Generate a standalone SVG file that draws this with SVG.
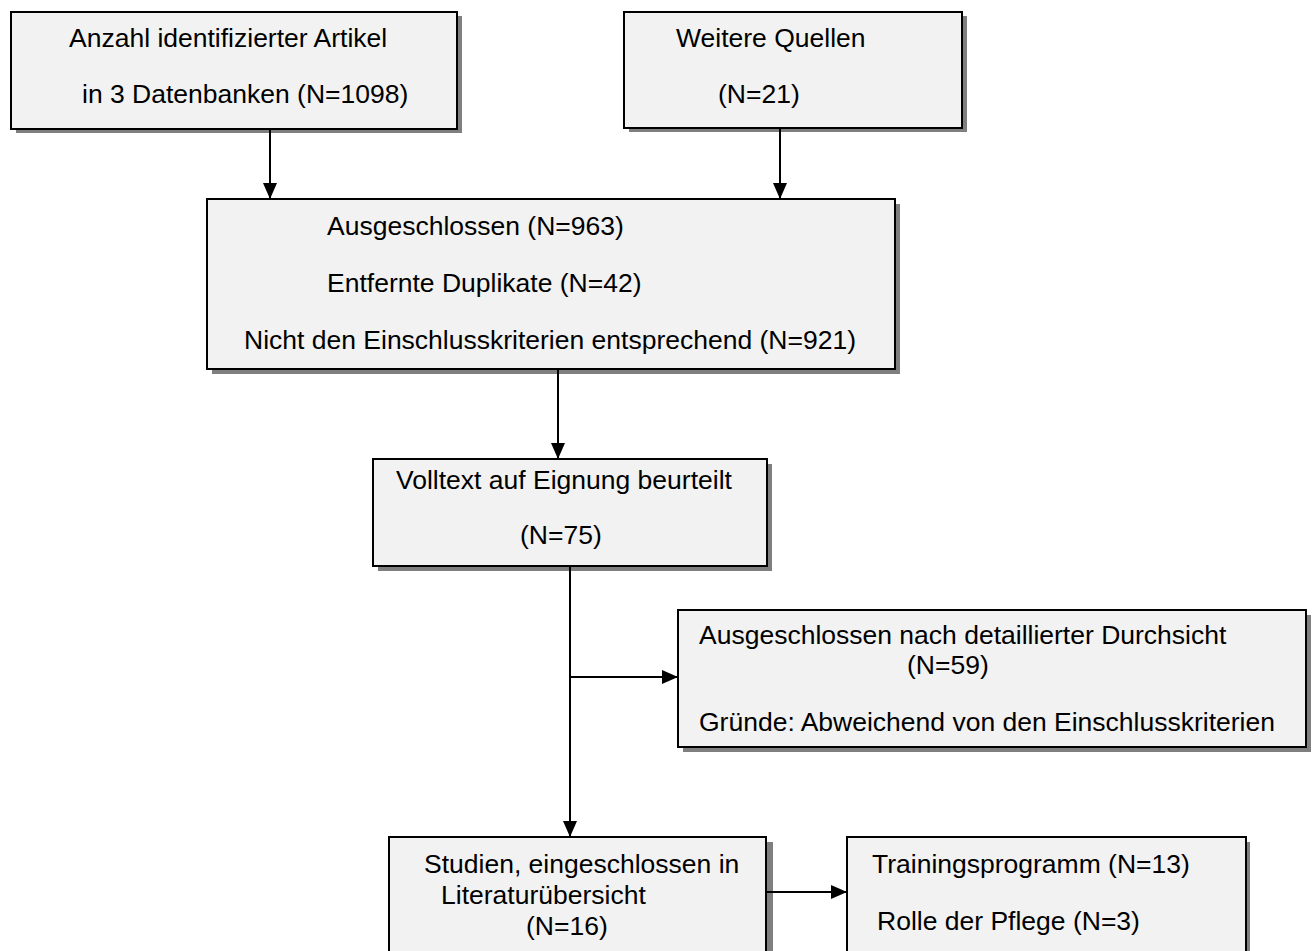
<svg xmlns="http://www.w3.org/2000/svg" width="1312" height="951" viewBox="0 0 1312 951">
<style>
.shadow{fill:#7f7f7f;stroke:none}
.box{fill:#f2f2f2;stroke:#000;stroke-width:2}
text{font-family:"Liberation Sans",Arial,sans-serif;font-size:26.5px;fill:#000}
.conn{stroke:#000;stroke-width:2;fill:none}
</style>
<defs>
<marker id="ah" markerUnits="userSpaceOnUse" markerWidth="16" markerHeight="14" refX="16" refY="7" orient="auto">
<path d="M0,0 L16,7 L0,14 Z" fill="#000"/>
</marker>
</defs>
<rect width="1312" height="951" fill="#fff"/>
<g id="n1">
<rect class="shadow" x="16" y="16" width="446" height="117"/>
<rect class="box" x="11" y="12" width="446" height="117"/>
<text x="69" y="47">Anzahl identifizierter Artikel</text>
<text x="82" y="103">in 3 Datenbanken (N=1098)</text>
</g>
<g id="n2">
<rect class="shadow" x="629" y="16" width="338" height="116"/>
<rect class="box" x="624" y="12" width="338" height="116"/>
<text x="676" y="47">Weitere Quellen</text>
<text x="718" y="103">(N=21)</text>
</g>
<g id="n3">
<rect class="shadow" x="212" y="204" width="688" height="170"/>
<rect class="box" x="207" y="199" width="688" height="170"/>
<text x="327" y="235">Ausgeschlossen (N=963)</text>
<text x="327" y="292">Entfernte Duplikate (N=42)</text>
<text x="244" y="349">Nicht den Einschlusskriterien entsprechend (N=921)</text>
</g>
<g id="n4">
<rect class="shadow" x="378" y="464" width="394" height="107"/>
<rect class="box" x="373" y="459" width="394" height="107"/>
<text x="396" y="489">Volltext auf Eignung beurteilt</text>
<text x="520" y="544">(N=75)</text>
</g>
<g id="n5">
<rect class="shadow" x="683" y="615" width="628" height="137"/>
<rect class="box" x="678" y="610" width="628" height="137"/>
<text x="699" y="644">Ausgeschlossen nach detaillierter Durchsicht</text>
<text x="907" y="674">(N=59)</text>
<text x="699" y="731">Gründe: Abweichend von den Einschlusskriterien</text>
</g>
<g id="n6">
<rect class="shadow" x="395" y="842" width="378" height="120"/>
<rect class="box" x="389" y="837" width="377" height="120"/>
<text x="424" y="873">Studien, eingeschlossen in</text>
<text x="441" y="904">Literaturübersicht</text>
<text x="526" y="935">(N=16)</text>
</g>
<g id="n7">
<rect class="shadow" x="852" y="842" width="398" height="120"/>
<rect class="box" x="847" y="837" width="399" height="120"/>
<text x="872" y="873">Trainingsprogramm (N=13)</text>
<text x="877" y="930">Rolle der Pflege (N=3)</text>
</g>
<g id="connectors">
<line class="conn" x1="270" y1="130" x2="270" y2="199" marker-end="url(#ah)"/>
<line class="conn" x1="780" y1="129" x2="780" y2="199" marker-end="url(#ah)"/>
<line class="conn" x1="558" y1="370" x2="558" y2="459" marker-end="url(#ah)"/>
<line class="conn" x1="570" y1="567" x2="570" y2="837" marker-end="url(#ah)"/>
<line class="conn" x1="570" y1="677" x2="678" y2="677" marker-end="url(#ah)"/>
<line class="conn" x1="767" y1="892" x2="847" y2="892" marker-end="url(#ah)"/>
</g>
</svg>
